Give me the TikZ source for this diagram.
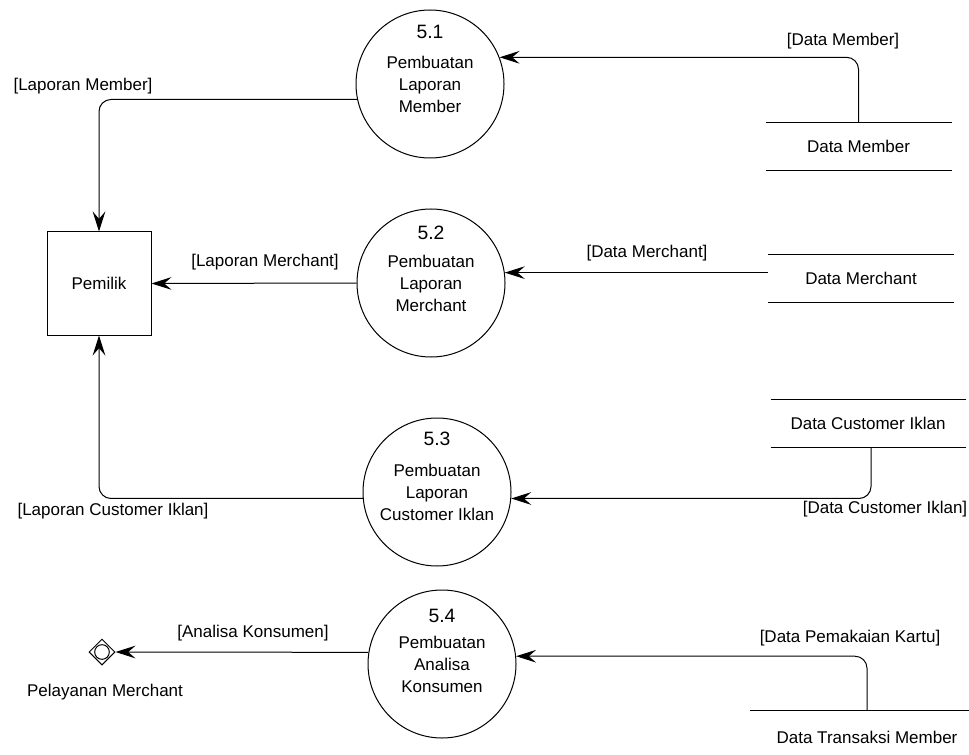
\documentclass[tikz,border=0pt]{standalone}
\usepackage{fontspec}
\setmainfont{Liberation Sans}
\usetikzlibrary{arrows.meta, shapes.geometric, positioning}

\begin{document}
\begin{tikzpicture}[x=0.75pt, y=-0.75pt, line width=0.75pt,
    font=\fontsize{12.75}{16.5}\selectfont,
    proses/.style={draw, circle, minimum size=111pt, inner sep=0pt},
    nomor/.style={font=\fontsize{14.5}{17}\selectfont, inner sep=0pt},
    isi/.style={align=center, inner sep=0pt},
    entitas/.style={draw, minimum width=78pt, minimum height=77.25pt},
    terminal/.style={draw, diamond, minimum size=19.5pt, inner sep=0pt,
        path picture={\draw (path picture bounding box.center) circle (5.5pt);}},
    simpan/.style={minimum width=138.75pt, minimum height=35.25pt, inner sep=0pt,
        append after command={(\tikzlastnode.north west) edge (\tikzlastnode.north east)
            (\tikzlastnode.south west) edge (\tikzlastnode.south east)}},
    simpanbuka/.style={minimum width=175.5pt, minimum height=39pt, inner sep=0pt,
        append after command={(\tikzlastnode.north west) edge (\tikzlastnode.north east)}},
    alur/.style={-{Stealth[length=15pt, width=9.5pt, inset=5.5pt]}, rounded corners=9pt}]
    \useasboundingbox (0,0) rectangle (969,755);

    % Entitas luar
    \node[entitas] (pemilik) at (99,283.5) {Pemilik};
    \node[terminal] (pelayanan) at (102,652) {};
    \node (lblPelayanan) at (105,692) {Pelayanan Merchant};

    % Proses 5.1 - 5.4
    \node[proses] (p51) at (430,84) {};
    \node[isi] (t51) at (p51) {Pembuatan\\Laporan\\Member};
    \node[nomor] (n51) at ([yshift=39pt]p51.center) {5.1};

    \node[proses] (p52) at (431,283) {};
    \node[isi] (t52) at (p52) {Pembuatan\\Laporan\\Merchant};
    \node[nomor] (n52) at ([yshift=37.5pt]p52.center) {5.2};

    \node[proses] (p53) at (437,492) {};
    \node[isi] (t53) at (p53) {Pembuatan\\Laporan\\Customer Iklan};
    \node[nomor] (n53) at ([yshift=40pt]p53.center) {5.3};

    \node[proses] (p54) at (442,664) {};
    \node[isi] (t54) at (p54) {Pembuatan\\Analisa\\Konsumen};
    \node[nomor] (n54) at ([yshift=36pt]p54.center) {5.4};

    % Data store
    \node[simpan] (dmember) at (858.5,146.5) {Data Member};
    \node[simpan] (dmerchant) at (861,278.5) {Data Merchant};
    \node[simpan, minimum width=145.5pt] (dci) at (868,423) {Data Customer Iklan};
    \node[simpanbuka] (dtm) at (867,737) {Data Transaksi Member};

    % Aliran data
    \draw[alur] (p51.192) -| (pemilik.north);
    \draw[alur] (p52.west) -- (pemilik.east);
    \draw[alur] (p53.185) -| (pemilik.south);
    \draw[alur] (p54.171) -- (pelayanan.east);
    \draw[alur] (dmember.north) |- (p51.21);
    \draw[alur] (dmerchant.west |- p52.8) -- (p52.8);
    \draw[alur] ([xshift=2.25pt]dci.south) |- (p53.-5);
    \draw[alur] (dtm.north) |- (p54.6);

    % Label aliran
    \node (lblLapMember) at (83,86) {[Laporan Member]};
    \node (lblLapMerchant) at (265,262) {[Laporan Merchant]};
    \node (lblLapCustomer) at (113,511) {[Laporan Customer Iklan]};
    \node (lblAnalisa) at (253,633) {[Analisa Konsumen]};
    \node (lblDataMember) at (843,41) {[Data Member]};
    \node (lblDataMerchant) at (647,253) {[Data Merchant]};
    \node (lblDataCustomer) at (885,509) {[Data Customer Iklan]};
    \node (lblPemakaian) at (850,638) {[Data Pemakaian Kartu]};
\end{tikzpicture}
\end{document}
